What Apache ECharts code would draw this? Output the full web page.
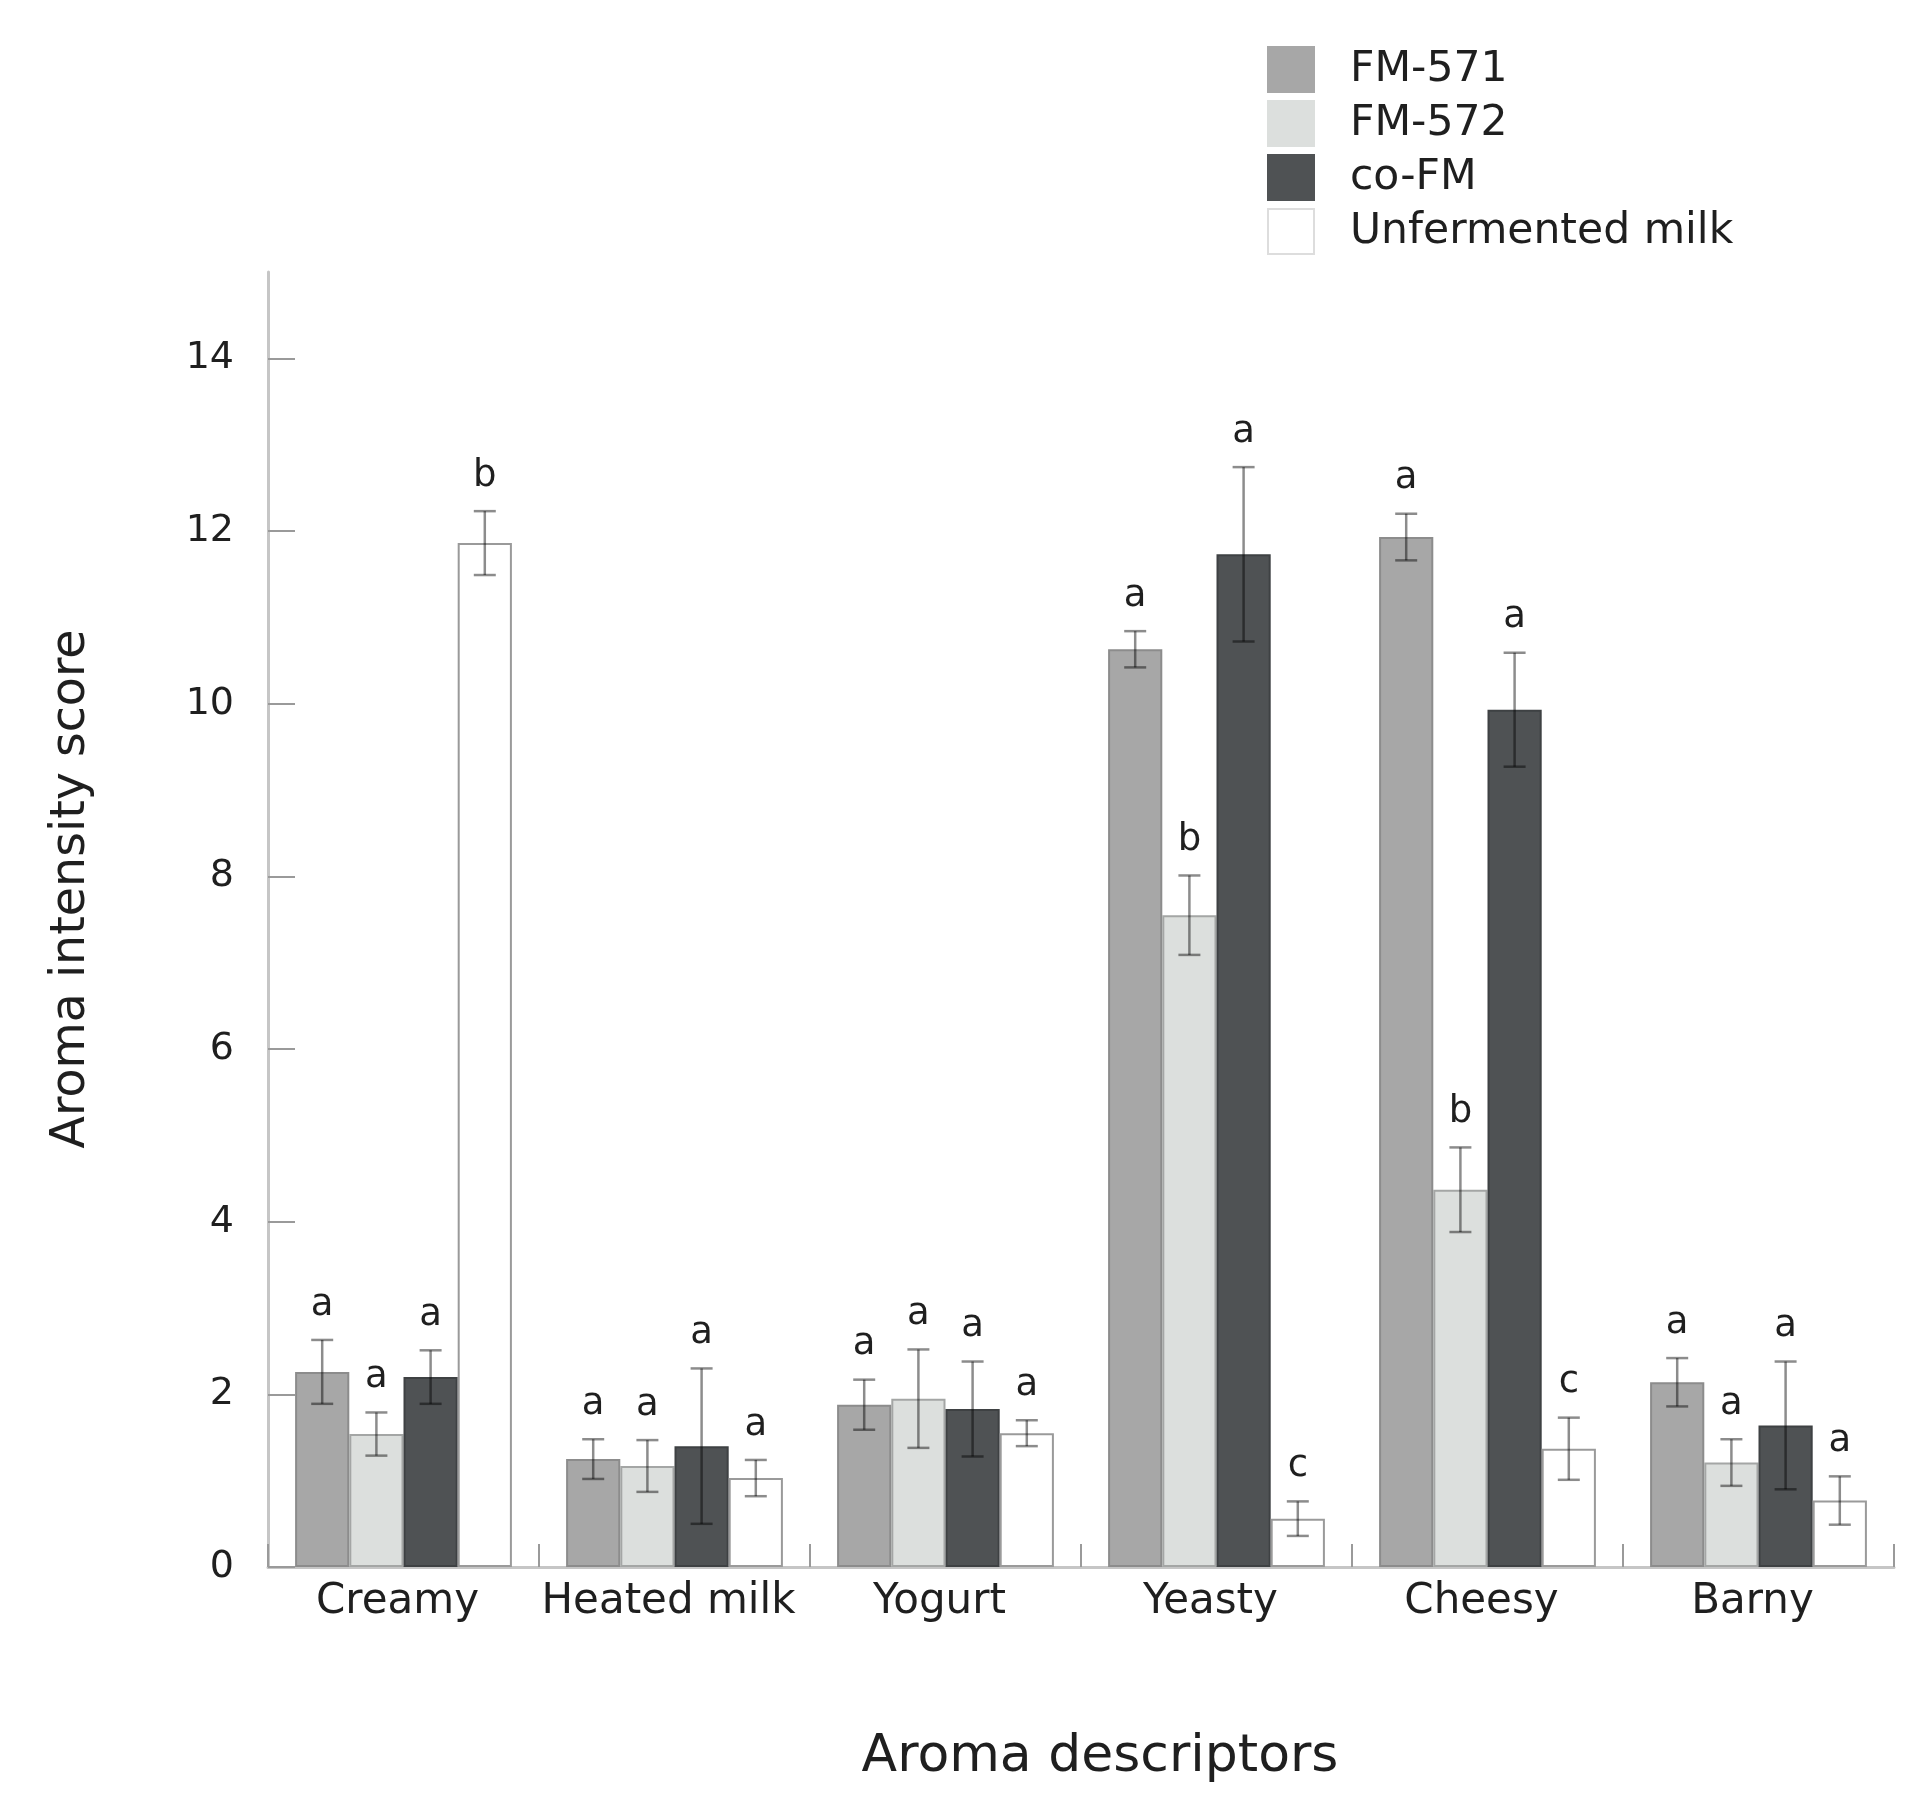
<!DOCTYPE html>
<html>
<head>
<meta charset="utf-8">
<script src="https://cdn.jsdelivr.net/npm/echarts@6/dist/echarts.min.js"></script>
<style>
html,body{margin:0;padding:0;background:#fff;}
#chart{width:1922px;height:1820px;}
</style>
</head>
<body>
<div id="chart"></div>
<script>
const categories = ['Creamy', 'Heated milk', 'Yogurt', 'Yeasty', 'Cheesy', 'Barny'];
const seriesNames = ['FM-571', 'FM-572', 'co-FM', 'Unfermented milk'];

const fm571 = [2.26, 1.25, 1.88, 10.63, 11.93, 2.14];
const fm571Err = [0.37, 0.23, 0.29, 0.21, 0.27, 0.28];
const fm571Letters = ['a', 'a', 'a', 'a', 'a', 'a'];

const fm572 = [1.54, 1.17, 1.95, 7.55, 4.37, 1.21];
const fm572Err = [0.25, 0.30, 0.57, 0.46, 0.49, 0.27];
const fm572Letters = ['a', 'a', 'a', 'b', 'b', 'a'];

const cofm = [2.20, 1.40, 1.83, 11.73, 9.93, 1.64];
const cofmErr = [0.31, 0.90, 0.55, 1.01, 0.66, 0.74];
const cofmLetters = ['a', 'a', 'a', 'a', 'a', 'a'];

const unf = [11.86, 1.03, 1.55, 0.56, 1.37, 0.77];
const unfErr = [0.37, 0.21, 0.15, 0.20, 0.36, 0.28];
const unfLetters = ['b', 'a', 'a', 'c', 'c', 'a'];

const yTickValues = [0, 2, 4, 6, 8, 10, 12, 14];

const values = [fm571, fm572, cofm, unf];
const errs = [fm571Err, fm572Err, cofmErr, unfErr];
const letters = [fm571Letters, fm572Letters, cofmLetters, unfLetters];

const fills = ['#a7a7a7', '#dcdfdd', '#4f5254', '#ffffff'];
const borders = ['#8c8c8c', '#a4a6a5', '#3e4143', '#9a9a9a'];
const legendBorders = ['#a7a7a7', '#dcdfdd', '#4f5254', '#dddddd'];

const FONT = 'DejaVu Sans';
const TXT = '#1f1f1f';

const chart = echarts.init(document.getElementById('chart'), null, {renderer: 'canvas'});

const series = [];
seriesNames.forEach(function (name, si) {
  series.push({
    name: name,
    type: 'bar',
    data: values[si],
    barGap: '0%',
    barCategoryGap: '20%',
    itemStyle: {color: fills[si], borderColor: borders[si], borderWidth: 2},
    z: 2
  });
});
seriesNames.forEach(function (name, si) {
  series.push({
    name: 'err-' + name,
    type: 'custom',
    z: 5,
    silent: true,
    data: categories.map(function (c, i) { return [i, values[si][i], errs[si][i]]; }),
    encode: {x: 0, y: 1},
    renderItem: function (params, api) {
      const ci = api.value(0);
      const v = api.value(1);
      const e = api.value(2);
      const base = api.coord([ci, v]);
      const band = api.size([1, 0])[0];
      const barW = band * 0.8 / 4;
      const x = base[0] + (si - 1.5) * barW;
      const yTop = api.coord([ci, v + e])[1];
      const yBot = api.coord([ci, v - e])[1];
      const cap = 11;
      const st = {stroke: 'rgba(0,0,0,0.45)', lineWidth: 2.5};
      return {
        type: 'group',
        children: [
          {type: 'line', shape: {x1: x, y1: yTop, x2: x, y2: yBot}, style: st},
          {type: 'line', shape: {x1: x - cap, y1: yTop, x2: x + cap, y2: yTop}, style: st},
          {type: 'line', shape: {x1: x - cap, y1: yBot, x2: x + cap, y2: yBot}, style: st},
          {type: 'text', x: x, y: yTop - 35, style: {
            text: letters[si][params.dataIndex], fontSize: 37, fontFamily: FONT,
            fill: TXT, align: 'center', verticalAlign: 'middle'}}
        ]
      };
    }
  });
});

const option = {
  animation: false,
  backgroundColor: '#ffffff',
  textStyle: {fontFamily: FONT},
  grid: {left: 268, right: 28, top: 272, bottom: 253, containLabel: false},
  legend: {
    orient: 'vertical',
    left: 1267,
    top: 46,
    padding: 0,
    itemWidth: 46,
    itemHeight: 45,
    itemGap: 7,
    icon: 'rect',
    selectedMode: false,
    textStyle: {fontSize: 42.5, color: TXT, fontFamily: FONT, padding: [0, 0, 0, 31]},
    data: seriesNames.map(function (n, i) {
      return {name: n, itemStyle: {color: fills[i], borderColor: legendBorders[i], borderWidth: 2}};
    })
  },
  xAxis: {
    type: 'category',
    data: categories,
    axisLine: {show: true, lineStyle: {color: '#c6c6c6', width: 3}},
    axisTick: {show: true, inside: true, length: 23, alignWithLabel: false, lineStyle: {color: '#9a9a9a', width: 2}},
    axisLabel: {fontSize: 42, color: TXT, margin: 14, fontFamily: FONT, interval: 0, padding: [0, 12, 0, 0]},
    splitLine: {show: false}
  },
  yAxis: {
    type: 'value',
    min: 0,
    max: 15,
    interval: 1,
    axisLine: {show: true, lineStyle: {color: '#c6c6c6', width: 3}},
    axisTick: {show: true, inside: true, length: 27, lineStyle: {color: '#9a9a9a', width: 2}, customValues: yTickValues},
    axisLabel: {fontSize: 38, color: TXT, margin: 34, fontFamily: FONT, customValues: yTickValues},
    splitLine: {show: false}
  },
  graphic: [
    {type: 'text', x: 1100, y: 1757, style: {text: 'Aroma descriptors', fontSize: 52, fontFamily: FONT, fill: TXT, align: 'center', verticalAlign: 'middle'}},
    {type: 'text', x: 72, y: 889, rotation: Math.PI / 2, style: {text: 'Aroma intensity score', fontSize: 47.5, fontFamily: FONT, fill: TXT, align: 'center', verticalAlign: 'middle'}}
  ],
  series: series
};
chart.setOption(option);
</script>
</body>
</html>
